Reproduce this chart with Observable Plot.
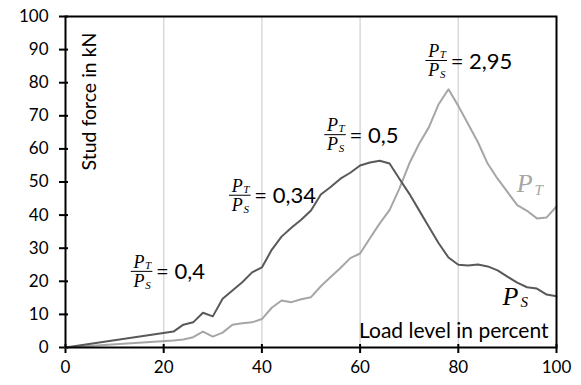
<!DOCTYPE html>
<html>
<head>
<meta charset="utf-8">
<script src="https://cdn.jsdelivr.net/npm/d3@7"></script>
<script src="https://cdn.jsdelivr.net/npm/@observablehq/plot@0.6"></script>
<style>
  html, body { margin: 0; padding: 0; background: #fff; }
  #chart { width: 581px; height: 385px; }
</style>
</head>
<body>
<div id="chart"></div>
<script>
// Load level (percent)
const loads = [0, 22, 24, 26, 28, 30, 32, 34, 36, 38, 40, 42, 44, 46, 48, 50, 52, 54, 56, 58, 60,
  62, 64, 66, 68, 70, 72, 74, 76, 78, 80, 82, 84, 86, 88, 90, 92, 94, 96, 98, 100];
// Stud force P_S (kN)
const forceS = [0, 4.8, 6.9, 7.6, 10.5, 9.4, 14.7, 17.2, 19.7, 22.7, 24.2, 29.5, 33.5, 36.2, 38.6, 41.4, 46.2,
  48.5, 51, 52.8, 55, 55.9, 56.4, 55.6, 51, 46.5, 41.5, 36.5, 31.5, 27.2, 25, 24.8, 25.1, 24.5, 23.3, 21.4,
  19.6, 18.2, 17.8, 16, 15.5];
// Stud force P_T (kN)
const forceT = [0, 2.1, 2.4, 3.1, 4.8, 3.3, 4.5, 6.9, 7.3, 7.6, 8.6, 12, 14.2, 13.7, 14.6, 15.2, 18.5,
  21.3, 24, 27, 28.4, 33, 37.5, 41.5, 48, 55.5, 61.5, 66.5, 73.5, 78, 73, 67.5, 62, 55.5, 51, 47, 43,
  41.3, 39, 39.3, 42.6];

const xTicks = [0, 20, 40, 60, 80, 100];
const yTicks = [0, 10, 20, 30, 40, 50, 60, 70, 80, 90, 100];
const gridLoads = [20, 40, 60, 80];

// Ratio annotations P_T / P_S
const ratioText = ["= 0,4", "= 0,34", "= 0,5", "= 2,95"];
const ratioLoad = [15.6, 35.6, 55.0, 75.6];
const ratioForce = [23, 46, 64.3, 86.7];

// Series labels
const seriesSub = ["T", "S"];
const seriesLoad = [93.5, 90.6];
const seriesForce = [49.4, 15.4];
const seriesColor = ["#a6a6a6", "#000000"];

const rowsS = loads.map((l, i) => ({load: l, force: forceS[i]}));
const rowsT = loads.map((l, i) => ({load: l, force: forceT[i]}));
const ratios = ratioText.map((t, i) => ({text: t, load: ratioLoad[i], force: ratioForce[i]}));
const series = seriesSub.map((s, i) => ({sub: s, load: seriesLoad[i], force: seriesForce[i], color: seriesColor[i]}));

const serif = "'Liberation Serif', 'DejaVu Serif', serif";
const sans = "Lato, 'Open Sans', sans-serif";

const chart = Plot.plot({
  width: 581,
  height: 385,
  marginLeft: 65,
  marginRight: 25,
  marginTop: 16,
  marginBottom: 38,
  style: {fontFamily: sans, fontSize: "17px", color: "#000", background: "#fff"},
  x: {domain: [0, 100]},
  y: {domain: [0, 100]},
  marks: [
    Plot.gridX(gridLoads, {stroke: "#d9d9d9", strokeOpacity: 1, strokeWidth: 1.5}),
    Plot.axisX(xTicks, {tickSize: 9, dy: -3, tickPadding: 7, label: null, stroke: "#000", strokeWidth: 2, fontSize: 17}),
    Plot.axisY(yTicks, {tickSize: 9, dx: 3, tickPadding: 11, label: null, stroke: "#000", strokeWidth: 2, fontSize: 17}),
    Plot.line(rowsT, {x: "load", y: "force", stroke: "#a6a6a6", strokeWidth: 2}),
    Plot.line(rowsS, {x: "load", y: "force", stroke: "#595959", strokeWidth: 2}),
    // fraction numerator P_T
    Plot.text(ratios, {x: "load", y: "force", text: () => "P", dx: -3, dy: -9, fontFamily: serif, fontStyle: "italic", fontSize: 18, fill: "#000"}),
    Plot.text(ratios, {x: "load", y: "force", text: () => "T", dx: 6, dy: -6, fontFamily: serif, fontStyle: "italic", fontSize: 11, fill: "#000"}),
    // fraction bar
    Plot.ruleY(ratios, {y: "force", x1: d => d.load - 2.2, x2: d => d.load + 2.2, stroke: "#000", strokeWidth: 1}),
    // fraction denominator P_S
    Plot.text(ratios, {x: "load", y: "force", text: () => "P", dx: -3, dy: 10, fontFamily: serif, fontStyle: "italic", fontSize: 18, fill: "#000"}),
    Plot.text(ratios, {x: "load", y: "force", text: () => "S", dx: 6, dy: 14, fontFamily: serif, fontStyle: "italic", fontSize: 11, fill: "#000"}),
    // value
    Plot.text(ratios, {x: "load", y: "force", text: "text", dx: 14, dy: 1, textAnchor: "start", fontFamily: sans, fontSize: 22, fill: "#000"}),
    // series labels
    Plot.text(series, {x: "load", y: "force", text: () => "P", fontFamily: serif, fontStyle: "italic", fontSize: 26, fill: d => d.color}),
    Plot.text(series, {x: "load", y: "force", text: "sub", dx: 14, dy: 6, fontFamily: serif, fontStyle: "italic", fontSize: 15, fill: d => d.color}),
    // axis titles inside the plot
    Plot.text(["Stud force in kN"], {frameAnchor: "top-left", rotate: -90, dx: 24, dy: 85, textAnchor: "middle", lineAnchor: "middle", fontFamily: sans, fontSize: 19.5, fill: "#000"}),
    Plot.text(["Load level in percent"], {frameAnchor: "bottom-right", textAnchor: "end", lineAnchor: "bottom", dx: -8, dy: -10, fontFamily: sans, fontSize: 21, fill: "#000"}),
    Plot.frame({stroke: "#000", strokeWidth: 2})
  ]
});
document.getElementById("chart").append(chart);
</script>
</body>
</html>
